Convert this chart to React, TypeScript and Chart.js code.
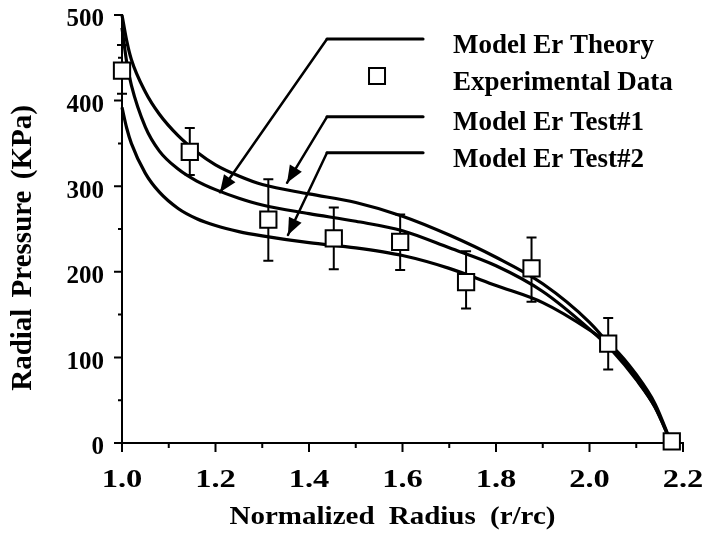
import React, { useEffect, useRef } from "react";
import { Chart, registerables } from "chart.js";

Chart.register(...registerables);

// ---------- data ----------
const radiusGrid = [1.0, 1.01, 1.02, 1.05, 1.08, 1.12, 1.16, 1.2, 1.25, 1.3, 1.4, 1.5, 1.6, 1.7, 1.8, 1.9, 2.0, 2.05, 2.1, 2.14, 2.175];
const theoryPressure = [485, 445, 418, 369, 341, 320, 306, 296, 286, 278, 268, 259, 248, 228, 207, 177, 133, 107, 74, 42, 0];
const test1Pressure = [500, 470, 448, 410, 384, 359, 340, 325, 312, 302, 291, 281, 265, 243, 217, 186, 141, 110, 75, 42, 0];
const test2Pressure = [392, 368, 350, 315, 293, 274, 262, 254, 247, 242, 234, 228, 219, 204, 184, 164, 132, 112, 80, 46, 0];

const expRadius = [1.0, 1.145, 1.313, 1.453, 1.595, 1.736, 1.876, 2.04, 2.176];
const expPressure = [435, 340, 261, 239, 235, 188, 204, 116, 2];
const expUpper = [465, 368, 308, 275, 267, 224, 240, 146, null];
const expLower = [408, 313, 213, 203, 202, 157, 165, 86, null];

const xMinorTicks = [1.1, 1.3, 1.5, 1.7, 1.9, 2.1];
const yMinorTicks = [50, 150, 250, 350, 450];

const legendLabels = ["Model Er Theory", "Experimental Data", "Model Er Test#1", "Model Er Test#2"];
const xTitle = "Normalized Radius (r/rc)";
const yTitle = "Radial Pressure (KPa)";

// ---------- annotation placement (data units) ----------
const LEG_LINE_X0 = 1.4385;
const LEG_LINE_X1 = 1.644;
const LEG_TEXT_X = 1.708;
const LEG_TEXT_Y = [455.6, 412.4, 365.7, 322.4];
const LEG_MARK = { x: 1.5455, y: 428.7 };
const ARROWS = [
  { y: 472, tipX: 1.2096, tipY: 293 },
  { y: 381, tipX: 1.353, tipY: 304 },
  { y: 339, tipX: 1.355, tipY: 243 },
];

const SERIF = "'Liberation Serif', 'Times New Roman', serif";

const toXY = (xs: number[], ys: number[]) => xs.map((x, i) => ({ x, y: ys[i] }));

const errorBarPlugin = {
  id: "errorBars",
  beforeDatasetDraw(chart: any, args: any) {
    if (args.index !== 0) return;
    const { ctx, scales } = chart;
    const x = scales.x;
    const y = scales.y;
    ctx.save();
    ctx.strokeStyle = "#000";
    ctx.lineWidth = 2;
    ctx.beginPath();
    expRadius.forEach((r, i) => {
      const hi = expUpper[i];
      const lo = expLower[i];
      if (hi == null || lo == null) return;
      const px = x.getPixelForValue(r);
      const pHi = y.getPixelForValue(hi);
      const pLo = y.getPixelForValue(lo);
      ctx.moveTo(px, pHi);
      ctx.lineTo(px, pLo);
      ctx.moveTo(px - 5, pHi);
      ctx.lineTo(px + 5, pHi);
      ctx.moveTo(px - 5, pLo);
      ctx.lineTo(px + 5, pLo);
    });
    ctx.stroke();
    ctx.restore();
  },
};

const axisTicksPlugin = {
  id: "axisTicks",
  afterDraw(chart: any) {
    const { ctx, scales, chartArea } = chart;
    const x = scales.x;
    const y = scales.y;
    ctx.save();
    ctx.strokeStyle = "#000";
    ctx.lineWidth = 2;
    ctx.beginPath();
    x.ticks.forEach((t: any) => {
      const px = x.getPixelForValue(t.value);
      ctx.moveTo(px, chartArea.bottom);
      ctx.lineTo(px, chartArea.bottom + 9);
    });
    xMinorTicks.forEach((v) => {
      const px = x.getPixelForValue(v);
      ctx.moveTo(px, chartArea.bottom);
      ctx.lineTo(px, chartArea.bottom + 5);
    });
    y.ticks.forEach((t: any) => {
      const py = y.getPixelForValue(t.value);
      ctx.moveTo(chartArea.left, py);
      ctx.lineTo(chartArea.left - 8, py);
    });
    yMinorTicks.forEach((v) => {
      const py = y.getPixelForValue(v);
      ctx.moveTo(chartArea.left, py);
      ctx.lineTo(chartArea.left - 4, py);
    });
    ctx.stroke();
    ctx.restore();
  },
};

const legendPlugin = {
  id: "arrowLegend",
  afterDraw(chart: any) {
    const { ctx, scales } = chart;
    const x = scales.x;
    const y = scales.y;
    ctx.save();
    ctx.strokeStyle = "#000";
    ctx.fillStyle = "#000";
    ctx.lineCap = "round";
    ARROWS.forEach((a) => {
      const x0 = x.getPixelForValue(LEG_LINE_X0);
      const x1 = x.getPixelForValue(LEG_LINE_X1);
      const py = y.getPixelForValue(a.y);
      const tx = x.getPixelForValue(a.tipX);
      const ty = y.getPixelForValue(a.tipY);
      ctx.lineWidth = 3;
      ctx.beginPath();
      ctx.moveTo(x1, py);
      ctx.lineTo(x0, py);
      ctx.stroke();
      ctx.lineWidth = 2.5;
      ctx.beginPath();
      ctx.moveTo(x0, py);
      ctx.lineTo(tx, ty);
      ctx.stroke();
      const ang = Math.atan2(ty - py, tx - x0);
      const len = 17;
      const half = 7;
      const bx = tx - len * Math.cos(ang);
      const by = ty - len * Math.sin(ang);
      ctx.beginPath();
      ctx.moveTo(tx, ty);
      ctx.lineTo(bx + half * Math.sin(ang), by - half * Math.cos(ang));
      ctx.lineTo(bx - half * Math.sin(ang), by + half * Math.cos(ang));
      ctx.closePath();
      ctx.fill();
    });
    // legend marker
    const mx = x.getPixelForValue(LEG_MARK.x);
    const my = y.getPixelForValue(LEG_MARK.y);
    ctx.lineWidth = 2;
    ctx.fillStyle = "#fff";
    ctx.beginPath();
    ctx.rect(mx - 8, my - 8, 16, 16);
    ctx.fill();
    ctx.stroke();
    // legend texts
    ctx.fillStyle = "#000";
    ctx.font = `bold 27px ${SERIF}`;
    ctx.textAlign = "left";
    ctx.textBaseline = "alphabetic";
    (ctx as any).letterSpacing = "0px";
    (ctx as any).wordSpacing = "0px";
    const tx = x.getPixelForValue(LEG_TEXT_X);
    legendLabels.forEach((lab, i) => {
      ctx.fillText(lab, tx, y.getPixelForValue(LEG_TEXT_Y[i]));
    });
    ctx.restore();
  },
};

const axisStylePlugin = {
  id: "axisStyle",
  beforeDraw(chart: any) {
    const ctx = chart.ctx;
    const xs = chart.scales.x;
    const ys = chart.scales.y;
    if (xs && !xs.__patched) {
      xs.__patched = true;
      const dt = xs.drawTitle.bind(xs);
      xs.drawLabels = function () {
        ctx.save();
        ctx.fillStyle = "#000";
        ctx.font = `bold 25px ${SERIF}`;
        ctx.textAlign = "center";
        ctx.textBaseline = "alphabetic";
        this.ticks.forEach((t: any, i: number) => {
          const px = this.getPixelForTick(i);
          ctx.save();
          ctx.translate(px, this.top + 44);
          ctx.scale(1.3, 1);
          ctx.fillText(String(t.label), 0, 0);
          ctx.restore();
        });
        ctx.restore();
      };
      xs.drawTitle = function () {
        ctx.save();
        (ctx as any).wordSpacing = "6px";
        const cx = (this.left + this.right) / 2;
        ctx.translate(cx - 10, 0);
        ctx.scale(1.16, 1);
        ctx.translate(-cx, 0);
        dt();
        ctx.restore();
      };
    }
    if (ys && !ys.__patched) {
      ys.__patched = true;
      const dt = ys.drawTitle.bind(ys);
      ys.drawTitle = function () {
        ctx.save();
        (ctx as any).wordSpacing = "4px";
        ctx.translate(0, 19);
        dt();
        ctx.restore();
      };
    }
  },
};

export default function App() {
  const ref = useRef<HTMLCanvasElement | null>(null);

  useEffect(() => {
    if (!ref.current) return;
    const lineStyle = {
      showLine: true,
      pointRadius: 0,
      pointHoverRadius: 0,
      borderColor: "#000",
      borderWidth: 3.2,
      cubicInterpolationMode: "monotone" as const,
      fill: false,
      clip: false as any,
      order: 1,
    };
    const chart = new Chart(ref.current, {
      type: "scatter",
      data: {
        datasets: [
          {
            label: legendLabels[1],
            data: toXY(expRadius, expPressure),
            pointStyle: "rect",
            pointRadius: 11.5,
            pointHoverRadius: 11.5,
            backgroundColor: "#fff",
            borderColor: "#000",
            borderWidth: 2,
            clip: false as any,
            order: 0,
          },
          { label: legendLabels[0], data: toXY(radiusGrid, theoryPressure), ...lineStyle },
          { label: legendLabels[2], data: toXY(radiusGrid, test1Pressure), ...lineStyle },
          { label: legendLabels[3], data: toXY(radiusGrid, test2Pressure), ...lineStyle },
        ],
      },
      options: {
        animation: false,
        responsive: false,
        devicePixelRatio: 1,
        events: [],
        layout: { autoPadding: false, padding: { top: 15, right: 25, left: 0, bottom: 0 } },
        plugins: { legend: { display: false }, tooltip: { enabled: false } },
        scales: {
          x: {
            type: "linear",
            min: 1.0,
            max: 2.2,
            afterFit: (s: any) => {
              s.height = 92;
              s.paddingLeft = 0;
              s.paddingRight = 0;
            },
            ticks: {
              stepSize: 0.2,
              callback: (v: any) => Number(v).toFixed(1),
              color: "#000",
              font: { family: SERIF, size: 25, weight: "bold" },
              maxRotation: 0,
              autoSkip: false,
            },
            grid: { display: false, drawTicks: false },
            border: { display: true, color: "#000", width: 2 },
            title: {
              display: true,
              text: xTitle,
              color: "#000",
              font: { family: SERIF, size: 25, weight: "bold" },
              padding: { top: 0, bottom: 2 },
            },
          },
          y: {
            type: "linear",
            min: 0,
            max: 500,
            afterFit: (s: any) => {
              s.width = 122;
              s.paddingTop = 0;
              s.paddingBottom = 0;
            },
            ticks: {
              stepSize: 100,
              color: "#000",
              padding: 18,
              labelOffset: 5,
              font: { family: SERIF, size: 25, weight: "bold" },
            },
            grid: { display: false, drawTicks: false },
            border: { display: true, color: "#000", width: 2 },
            title: {
              display: true,
              text: yTitle,
              color: "#000",
              font: { family: SERIF, size: 29, weight: "bold" },
              padding: { top: 6, bottom: 0 },
            },
          },
        },
      },
      plugins: [axisStylePlugin, errorBarPlugin, axisTicksPlugin, legendPlugin],
    });
    return () => chart.destroy();
  }, []);

  return (
    <div style={{ position: "fixed", left: 0, top: 0, width: 708, height: 535, background: "#fff" }}>
      <canvas ref={ref} width={708} height={535} style={{ display: "block" }} />
    </div>
  );
}
